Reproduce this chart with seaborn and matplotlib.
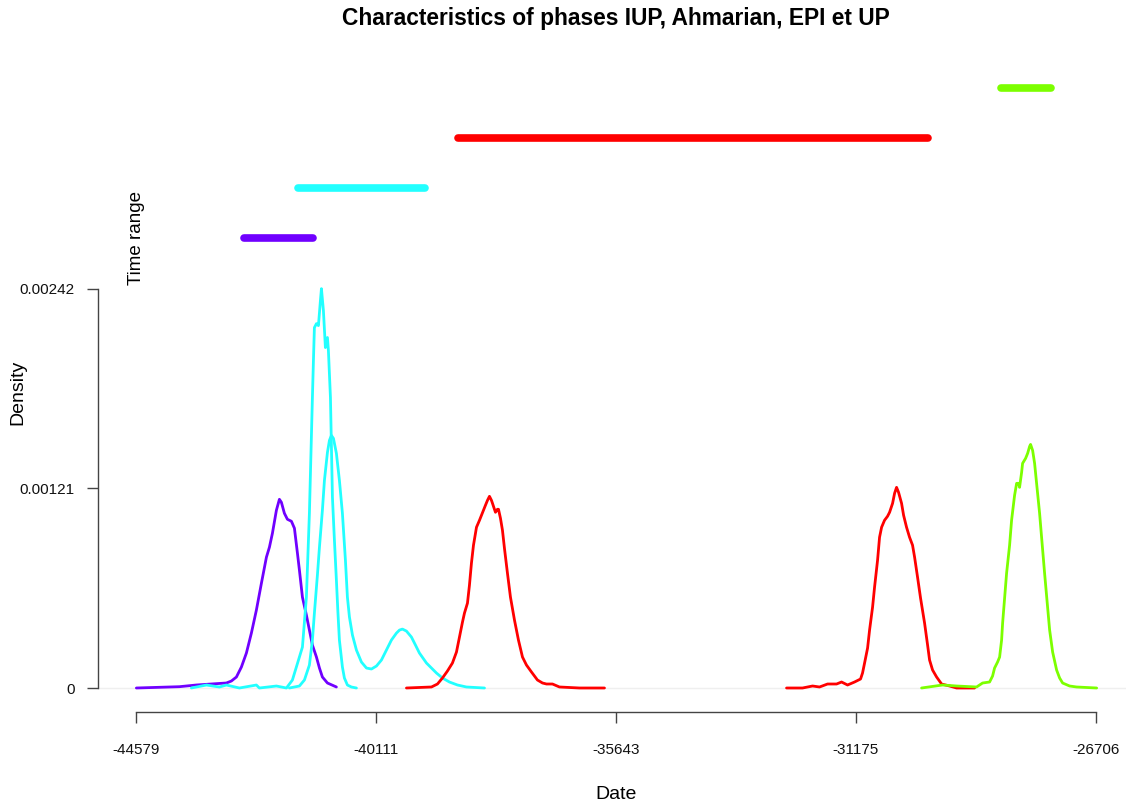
import numpy as np
import pandas as pd
import matplotlib
matplotlib.use("Agg")
import matplotlib.pyplot as plt
import seaborn as sns

# -----------------------------
# data
# -----------------------------
x_ticks = [-44579, -40111, -35643, -31175, -26706]
y_ticks = [0, 0.00121, 0.00242]
y_tick_labels = ["0", "0.00121", "0.00242"]

# density curves (date, density)
iup_x = [-44579, -43778, -43461, -42902, -42808, -42715, -42622, -42529, -42436, -42343, -42249,
         -42156, -42100, -42044, -41970, -41914, -41877, -41821, -41765, -41690, -41634, -41578,
         -41541, -41485, -41411, -41355, -41299, -41224, -41168, -41113, -41019, -40852]
iup_y = [0, 7.9e-6, 1.82e-5, 3.03e-5, 4.24e-5, 6.66e-5, 1.271e-4, 2.118e-4, 3.328e-4, 4.719e-4,
         6.353e-4, 7.926e-4, 8.531e-4, 9.378e-4, 1.0769e-3, 1.1435e-3, 1.1253e-3, 1.0588e-3,
         1.0225e-3, 1.0104e-3, 9.68e-4, 8.168e-4, 7.139e-4, 5.506e-4, 4.417e-4, 3.509e-4,
         2.602e-4, 1.876e-4, 1.21e-4, 6.66e-5, 3.03e-5, 6.1e-6]

ahm1_x = [-43554, -43274, -43032, -42902, -42659, -42343, -42287, -41970, -41783, -41672, -41541,
          -41485, -41411, -41355, -41327, -41299, -41280, -41262, -41224, -41187, -41150, -41131,
          -41094, -41057, -41019, -41001, -40963, -40926, -40889, -40852, -40824, -40796, -40740,
          -40703, -40647, -40572, -40479]
ahm1_y = [0, 1.8e-5, 6e-6, 1.8e-5, 0, 1.8e-5, 0, 1.2e-5, 0, 4.8e-5, 1.88e-4,
          2.48e-4, 5.51e-4, 1.059e-3, 1.41e-3, 1.761e-3, 1.984e-3, 2.184e-3, 2.208e-3, 2.196e-3,
          2.347e-3, 2.42e-3, 2.287e-3, 2.063e-3, 2.124e-3, 2.045e-3, 1.761e-3, 1.156e-3, 8.95e-4,
          6.53e-4, 4.6e-4, 2.9e-4, 1.27e-4, 6.05e-5, 1.8e-5, 6e-6, 0]

ahm2_x = [-41728, -41541, -41448, -41355, -41299, -41262, -41206, -41168, -41113, -41075, -41019,
          -40982, -40945, -40907, -40852, -40796, -40740, -40684, -40647, -40609, -40553, -40479,
          -40386, -40292, -40199, -40106, -40013, -39920, -39827, -39733, -39677, -39622, -39547,
          -39454, -39379, -39305, -39174, -39081, -38988, -38876, -38746, -38597, -38429, -38093]
ahm2_y = [0, 1.21e-5, 4.84e-5, 1.392e-4, 2.904e-4, 4.538e-4, 6.837e-4, 8.531e-4, 1.0769e-3,
          1.2584e-3, 1.4278e-3, 1.5004e-3, 1.5307e-3, 1.5125e-3, 1.4218e-3, 1.2584e-3, 1.0588e-3,
          7.744e-4, 5.506e-4, 4.296e-4, 3.207e-4, 2.299e-4, 1.573e-4, 1.21e-4, 1.15e-4, 1.331e-4,
          1.694e-4, 2.299e-4, 2.904e-4, 3.328e-4, 3.509e-4, 3.57e-4, 3.449e-4, 3.086e-4, 2.602e-4,
          2.118e-4, 1.513e-4, 1.21e-4, 9.08e-5, 6.05e-5, 3.63e-5, 1.82e-5, 6.1e-6, 0]

epi_x = [-39547, -39081, -38969, -38876, -38783, -38690, -38615, -38559, -38503, -38466, -38410,
         -38373, -38336, -38298, -38242, -38186, -38149, -38075, -38037, -38000, -37963, -37944,
         -37907, -37888, -37851, -37832, -37795, -37758, -37721, -37665, -37609, -37534, -37460,
         -37385, -37311, -37217, -37106, -37012, -36938, -36826, -36696, -36323, -35857]
epi_y = [0, 6.1e-6, 2.42e-5, 6.05e-5, 1.029e-4, 1.513e-4, 2.178e-4, 3.086e-4, 3.993e-4, 4.538e-4,
         5.143e-4, 6.232e-4, 7.563e-4, 8.652e-4, 9.741e-4, 1.0164e-3, 1.0467e-3, 1.1072e-3,
         1.1374e-3, 1.1616e-3, 1.1374e-3, 1.1193e-3, 1.083e-3, 1.0648e-3, 1.083e-3, 1.083e-3,
         1.0285e-3, 9.559e-4, 8.47e-4, 6.958e-4, 5.506e-4, 4.114e-4, 2.904e-4, 1.876e-4, 1.392e-4,
         9.68e-5, 4.84e-5, 3.03e-5, 2.42e-5, 2.42e-5, 6.1e-6, 0, 0]

up1_x = [-32465, -32167, -31980, -31850, -31701, -31533, -31440, -31328, -31198, -31086, -31049,
         -31011, -30955, -30918, -30862, -30825, -30769, -30732, -30694, -30639, -30583, -30545,
         -30489, -30452, -30415, -30378, -30322, -30284, -30229, -30173, -30117, -30079, -30024,
         -29968, -29893, -29837, -29800, -29744, -29669, -29576, -29427, -29297, -28961]
up1_y = [0, 0, 1.21e-5, 6.1e-6, 2.42e-5, 2.42e-5, 3.63e-5, 1.82e-5, 3.63e-5, 5.45e-5, 9.08e-5,
         1.513e-4, 2.42e-4, 3.509e-4, 4.901e-4, 6.111e-4, 7.744e-4, 9.136e-4, 9.741e-4, 1.0164e-3,
         1.0406e-3, 1.0648e-3, 1.1193e-3, 1.1798e-3, 1.2161e-3, 1.1858e-3, 1.1193e-3, 1.0467e-3,
         9.741e-4, 9.136e-4, 8.652e-4, 7.926e-4, 6.716e-4, 5.445e-4, 3.933e-4, 2.602e-4, 1.694e-4,
         1.089e-4, 6.66e-5, 2.42e-5, 1.21e-5, 0, 0]

up2_x = [-29949, -29558, -29297, -28924, -28812, -28682, -28626, -28589, -28533, -28495, -28458,
         -28439, -28402, -28365, -28309, -28272, -28216, -28178, -28141, -28123, -28085, -28067,
         -28011, -27973, -27936, -27918, -27880, -27843, -27806, -27750, -27713, -27657, -27601,
         -27563, -27507, -27433, -27377, -27321, -27191, -27060, -26687]
up2_y = [0, 1.82e-5, 1.21e-5, 6.1e-6, 3.03e-5, 3.63e-5, 7.26e-5, 1.21e-4, 1.573e-4, 1.876e-4,
         2.904e-4, 3.933e-4, 5.445e-4, 6.958e-4, 8.652e-4, 1.0164e-3, 1.1677e-3, 1.2403e-3,
         1.2403e-3, 1.2161e-3, 1.3068e-3, 1.3613e-3, 1.3915e-3, 1.4218e-3, 1.4641e-3, 1.4762e-3,
         1.4399e-3, 1.3613e-3, 1.2403e-3, 1.0588e-3, 9.136e-4, 6.958e-4, 4.901e-4, 3.509e-4,
         2.178e-4, 1.089e-4, 6.05e-5, 3.03e-5, 1.21e-5, 6.1e-6, 0]

# time ranges (start, end, level)
range_start = [-42566, -41560, -38578, -28476]
range_end = [-41280, -39193, -29837, -27544]
range_level = [0.002729, 0.003031, 0.003333, 0.003636]

purple = "#7000FF"
cyan = "#22FFFF"
red = "#FF0000"
green = "#7CFF00"
range_colors = [purple, cyan, red, green]

curves = [(iup_x, iup_y, purple), (ahm1_x, ahm1_y, cyan), (ahm2_x, ahm2_y, cyan),
          (epi_x, epi_y, red), (up1_x, up1_y, red), (up2_x, up2_y, green)]

# -----------------------------
# figure
# -----------------------------
sns.set_style("white")
plt.rcParams["font.family"] = ["Liberation Sans", "DejaVu Sans"]

W, H = 1126, 805
fig = plt.figure(figsize=(W / 100, H / 100), dpi=100)
ax = fig.add_axes([98 / W, (H - 712) / H, (1134 - 98) / W, (712 - 64) / H])

ax.axhline(0, color="#efefef", lw=1, zorder=0)

for cx, cy, col in curves:
    df = pd.DataFrame({"date": cx, "density": cy})
    sns.lineplot(data=df, x="date", y="density", color=col, lw=2.0, sort=False,
                 estimator=None, ax=ax)

for s, e, lv, col in zip(range_start, range_end, range_level, range_colors):
    ax.plot([s, e], [lv, lv], color=col, lw=5.5, solid_capstyle="round")

ax.text(-44579, range_level[0], "Time range", rotation=90, ha="center", va="center",
        fontsize=13.5, color="black")

span = x_ticks[-1] - x_ticks[0]
ax.set_xlim(x_ticks[0] - 0.04 * span, x_ticks[-1] + 0.04 * span)
ymax = range_level[-1]
ax.set_ylim(-0.04 * ymax, 1.04 * ymax)

ax.set_xticks(x_ticks)
ax.set_xticklabels([str(t) for t in x_ticks])
ax.set_yticks(y_ticks)
ax.set_yticklabels(y_tick_labels)
ax.set_xlabel("")
ax.set_ylabel("")

for side in ["top", "right"]:
    ax.spines[side].set_visible(False)
ax.spines["left"].set_bounds(0, 0.00242)
ax.spines["bottom"].set_bounds(x_ticks[0], x_ticks[-1])
for side in ["left", "bottom"]:
    ax.spines[side].set_color("#444444")
    ax.spines[side].set_linewidth(1.0)

ax.tick_params(axis="y", length=8, width=1, color="#444444", pad=9, labelsize=11,
               labelcolor="#111111", left=True)
ax.tick_params(axis="x", length=8, width=1, color="#444444", pad=14, labelsize=11,
               labelcolor="#111111", bottom=True)

fig.text(616 / W, 1 - 18 / H, "Characteristics of phases IUP, Ahmarian, EPI et UP",
         ha="center", va="center", fontsize=16.4, fontweight="bold", color="black")
fig.text(616 / W, 1 - 794 / H, "Date", ha="center", va="center", fontsize=14, color="black")
fig.text(18 / W, 1 - 392 / H, "Density", ha="center", va="center", rotation=90, fontsize=14,
         color="black")

fig.savefig("out.png", dpi=100)
